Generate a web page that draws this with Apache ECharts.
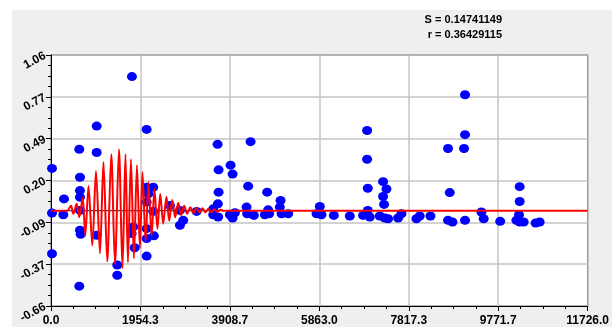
<!DOCTYPE html>
<html>
<head>
<meta charset="utf-8">
<script src="https://cdn.jsdelivr.net/npm/echarts@6/dist/echarts.min.js"></script>
<style>
html,body{margin:0;padding:0;background:#fff;}
#chart{width:612px;height:327px;}
</style>
</head>
<body>
<div id="chart"></div>
<script>
// ---- data ----
const xTickLabels = ['0.0','1954.3','3908.7','5863.0','7817.3','9771.7','11726.0'];
const yTickLabels = ['-0.66','-0.37','-0.09','0.20','0.49','0.77','1.06'];
const xMin = 0, xMax = 11726;
const yMin = -0.66, yMax = 1.06;
const statS = 'S = 0.14741149';
const statR = 'r = 0.36429115';

const scatterX = [1769,998,2090,618,998,22,633,633,633,284,2090,2234,2125,2090,2234,22,269,633,2598,2817,2889,2817,3182,633,649,998,1797,1762,2090,2090,2249,22,1828,2090,1448,1448,618,
3640,4361,3662,3924,3968,4308,3662,4723,5016,3647,3544,3544,3653,3909,3968,4018,4273,4286,4433,4673,4745,4767,5000,5038,5182,5874,5802,5911,6180,6529,
9047,6907,9047,8675,9025,6907,7256,7330,6922,8713,7256,7278,6922,6819,6966,7184,7293,7365,7584,7658,7985,8057,8291,8675,8772,9047,9405,9455,9815,
10241,10241,10226,10169,10241,10328,10590,10678];
const scatterY = [0.912,0.573,0.550,0.414,0.392,0.283,0.222,0.131,0.086,0.074,0.154,0.154,0.108,0.052,-0.012,-0.023,-0.035,-0.005,0.029,-0.005,-0.073,-0.107,-0.012,-0.141,-0.168,-0.175,-0.118,-0.164,-0.130,-0.198,-0.179,-0.302,-0.261,-0.318,-0.379,-0.449,-0.524,
0.448,0.466,0.273,0.305,0.244,0.161,0.120,0.120,0.063,0.040,0.006,-0.035,-0.050,-0.035,-0.057,-0.021,0.018,-0.028,-0.039,-0.035,-0.001,-0.028,0.018,-0.028,-0.028,0.022,-0.028,-0.035,-0.039,-0.043,
0.788,0.543,0.514,0.419,0.419,0.346,0.192,0.142,0.147,0.117,0.090,0.036,-0.005,-0.039,-0.050,-0.043,-0.057,-0.062,-0.057,-0.028,-0.062,-0.043,-0.043,-0.073,-0.084,-0.073,-0.016,-0.062,-0.080,
0.158,0.056,-0.035,-0.073,-0.084,-0.084,-0.091,-0.084];

const curveX = [0,349,437,487,561,618,692,749,819,902,983,1070,1146,1229,1317,1398,1485,1561,1627,1681,1747,1812,1878,1943,1998,2068,2129,2199,2260,2326,2387,2452,2522,2583,2649,2712,2780,2843,2911,2976,3046,3112,3177,3243,3308,3374,3439,3505,3571,3636,3701,3767,11726];
const curveY = [-0.007,-0.007,0.027,-0.028,0.040,-0.052,0.081,-0.177,0.163,-0.245,0.265,-0.300,0.326,-0.354,0.380,-0.374,0.414,-0.402,0.380,-0.361,0.346,-0.334,0.305,-0.266,0.258,-0.218,0.190,-0.177,0.142,-0.130,0.108,-0.096,0.088,-0.075,0.067,-0.052,0.047,-0.038,0.027,-0.028,0.016,-0.024,0.013,-0.021,0.009,-0.018,0.006,-0.018,0.002,-0.014,-0.001,-0.007,-0.007];

const baseX = [0, 3800];
const baseY = [-0.007, -0.007];

// ---- chart ----
const chart = echarts.init(document.getElementById('chart'), null, {renderer:'canvas'});
const lblFont = {fontFamily:'Liberation Sans, Arial, sans-serif', fontWeight:'bold', fontSize:12, color:'#000'};
const grid = {left:51, top:55, width:537, height:253, show:true, backgroundColor:'#fff', borderColor:'#000', borderWidth:1};
const nX = xTickLabels.length - 1, nY = yTickLabels.length - 1;

chart.setOption({
  animation:false,
  backgroundColor:'#fff',
  graphic:[
    {type:'rect', shape:{x:12,y:10,width:600,height:317}, style:{fill:'#efefef'}, z:-100, silent:true},
    {type:'text', right:110, top:14, style:{text:statS, fill:'#000', font:'bold 11px "Liberation Sans", Arial, sans-serif', textAlign:'right'}},
    {type:'text', right:110, top:29, style:{text:statR, fill:'#000', font:'bold 11px "Liberation Sans", Arial, sans-serif', textAlign:'right'}}
  ],
  grid:grid,
  xAxis:[
    {type:'value', min:xMin, max:xMax, show:false, splitLine:{show:false}},
    {type:'value', min:0, max:nX, interval:1, position:'bottom',
      axisLine:{show:true, onZero:false, lineStyle:{color:'#000', width:1}},
      axisTick:{show:true, length:5, lineStyle:{color:'#000'}},
      minorTick:{show:true, splitNumber:4, length:3, lineStyle:{color:'#000'}},
      splitLine:{show:true, lineStyle:{color:'#c4c4c4', width:1.5}},
      axisLabel:Object.assign({margin:9, formatter:(v)=>xTickLabels[Math.round(v)]}, lblFont)}
  ],
  yAxis:[
    {type:'value', min:yMin, max:yMax, show:false, splitLine:{show:false}},
    {type:'value', min:0, max:nY, interval:1, position:'left',
      axisLine:{show:true, onZero:false, lineStyle:{color:'#000', width:1}},
      axisTick:{show:true, length:5, lineStyle:{color:'#000'}},
      minorTick:{show:true, splitNumber:4, length:3, lineStyle:{color:'#000'}},
      splitLine:{show:true, lineStyle:{color:'#c4c4c4', width:1.5}},
      axisLabel:Object.assign({margin:6, rotate:28, formatter:(v)=>yTickLabels[Math.round(v)]}, lblFont)}
  ],
  series:[
    {type:'line', xAxisIndex:0, yAxisIndex:0, data:baseX.map((x,i)=>[x, baseY[i]]), symbol:'none',
      lineStyle:{color:'#3a0000', width:1}, z:1},
    {type:'scatter', xAxisIndex:0, yAxisIndex:0, data:scatterX.map((x,i)=>[x, scatterY[i]]),
      symbol:'circle', symbolSize:[10,9], itemStyle:{color:'#0000ff', opacity:1}, z:2},
    {type:'line', xAxisIndex:0, yAxisIndex:0, data:curveX.map((x,i)=>[x, curveY[i]]), symbol:'none',
      smooth:0.3, lineStyle:{color:'#ff0000', width:2}, z:3}
  ]
});
</script>
</body>
</html>
